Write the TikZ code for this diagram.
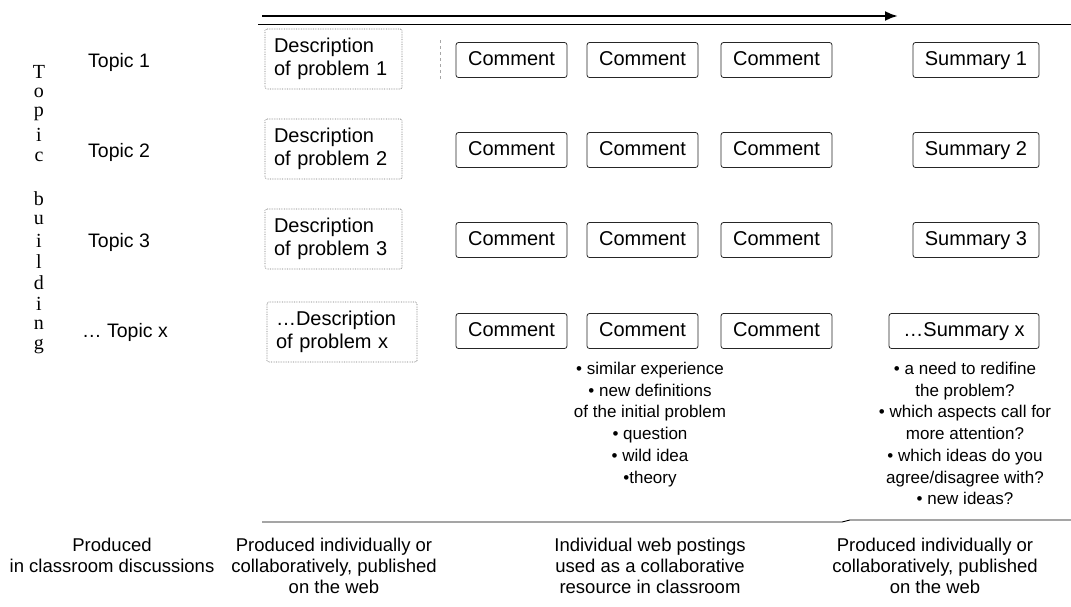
\documentclass[tikz,border=0pt]{standalone}
\usepackage{fontspec}
\setmainfont{Liberation Sans}
\newfontfamily\serifletters{Liberation Serif}
\usetikzlibrary{arrows.meta}
\tikzset{
  descbox/.style={draw=black!55, densely dotted, line width=0.7pt, rounded corners=1.5pt,
    align=left, inner xsep=9pt, inner ysep=4pt, minimum height=60pt,
    font=\fontsize{20}{23.5}\selectfont},
  combox/.style={draw=black!85, line width=0.8pt, rounded corners=2.5pt,
    minimum width=111pt, minimum height=35pt, inner xsep=0pt, inner ysep=0pt,
    text height=14.5pt, text depth=4pt,
    font=\fontsize{20}{24}\selectfont},
  sumbox/.style={combox, minimum width=126pt},
  topiclabel/.style={anchor=west, inner sep=0pt, font=\fontsize{19.5}{23}\selectfont},
  vletter/.style={inner sep=0pt, font=\serifletters\fontsize{20}{22}\selectfont},
  bullets/.style={anchor=north, align=center, inner sep=0pt,
    font=\fontsize{17}{21.7}\selectfont},
  caption/.style={anchor=north, align=center, inner sep=0pt,
    font=\fontsize{18.5}{21}\selectfont},
  faint/.style={draw=black!35, dashed, line width=0.5pt},
}
\begin{document}
\begin{tikzpicture}[x=1pt,y=-1pt]
\useasboundingbox (0,0) rectangle (1071,606);

% top arrow and rules
\coordinate (aS) at (262,16);
\coordinate (aE) at (898,16);
\draw[line width=2.4pt, -{Latex[length=13pt,width=10pt]}] (aS) -- (aE);
\coordinate (tS) at (258,24);
\coordinate (tE) at (1071,24);
\draw[line width=0.8pt] (tS) -- (tE);
\coordinate (bS) at (262,522);
\coordinate (bK1) at (842,522);
\coordinate (bK2) at (850,520);
\coordinate (bE) at (1071,520);
\draw[line width=0.9pt] (bS) -- (bK1) -- (bK2) -- (bE);

% vertical "Topic building"
\foreach \ch [count=\i from 0] in {T,o,p,i,c,{},b,u,i,l,d,i,n,g}{
  \node[vletter] (v\i) at (39,{72+21.1*\i}) {\ch};
}

% topic labels
\node[topiclabel] (t1) at (88,62) {Topic 1};
\node[topiclabel] (t2) at (88,152) {Topic 2};
\node[topiclabel] (t3) at (88,242) {Topic 3};
\node[topiclabel] (t4) at (82,332) {\dots\ Topic x};

% description boxes
\node[descbox, text width=119pt] (d1) at (333.5,59) {Description\\of problem 1};
\node[descbox, text width=119pt] (d2) at (333.5,149) {Description\\of problem 2};
\node[descbox, text width=119pt] (d3) at (333.5,239) {Description\\of problem 3};
\node[descbox, text width=132pt] (d4) at (342,332) {\dots Description\\of problem x};

% comments
\foreach \r/\y in {1/60,2/150,3/240,4/331}{
  \node[combox] (c\r a) at (511.5,\y) {Comment};
  \node[combox] (c\r b) at (642.5,\y) {Comment};
  \node[combox] (c\r c) at (776.5,\y) {Comment};
}

% summaries
\node[sumbox] (s1) at (976,60) {Summary 1};
\node[sumbox] (s2) at (976,150) {Summary 2};
\node[sumbox] (s3) at (976,240) {Summary 3};
\node[sumbox, minimum width=150pt] (s4) at (964,331) {\dots Summary x};

% faint scan remnants
\coordinate (f1a) at (440,40); \coordinate (f1b) at (440,80);
\draw[faint] (f1a) -- (f1b);

% bullet lists
\node[bullets] (bl1) at (650,362) {• similar experience\\
  • new definitions\\
  of the initial problem\\
  • question\\
  • wild idea\\
  •theory};
\node[bullets] (bl2) at (965,362) {• a need to redifine\\
  the problem?\\
  • which aspects call for\\
  more attention?\\
  • which ideas do you\\
  agree/disagree with?\\
  • new ideas?};

% captions
\node[caption] (k1) at (112,538) {Produced\\in classroom discussions};
\node[caption] (k2) at (334,538) {Produced individually or\\collaboratively, published\\on the web};
\node[caption] (k3) at (650,538) {Individual web postings\\used as a collaborative\\resource in classroom};
\node[caption] (k4) at (935,538) {Produced individually or\\collaboratively, published\\on the web};
\end{tikzpicture}
\end{document}
